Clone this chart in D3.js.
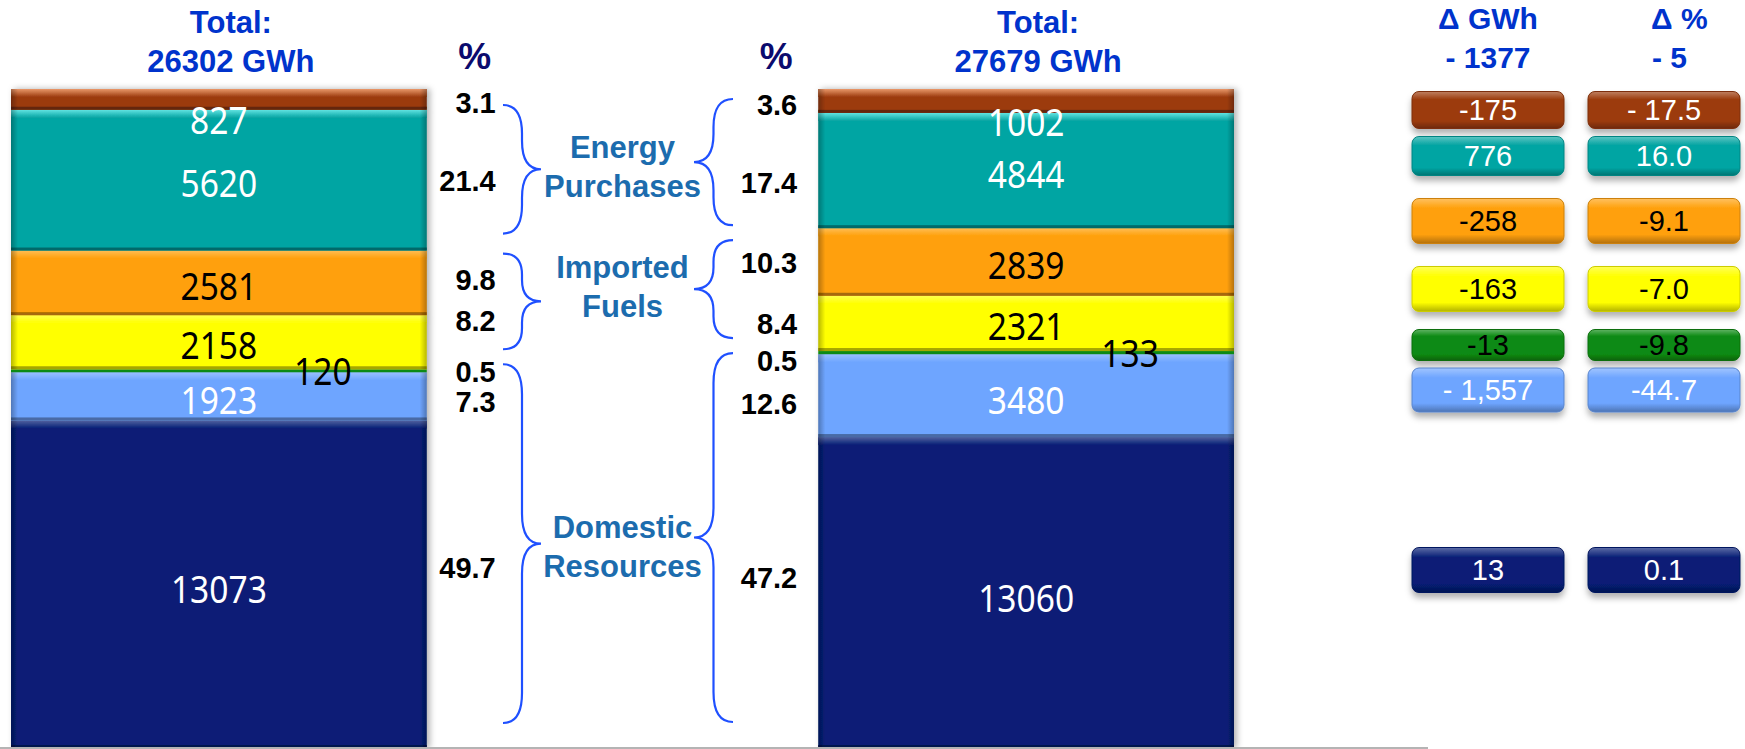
<!DOCTYPE html>
<html>
<head>
<meta charset="utf-8">
<script src="https://cdn.jsdelivr.net/npm/d3@7"></script>
<style>
  html, body { margin: 0; padding: 0; background: #fff; }
  svg { display: block; }
</style>
</head>
<body>
<svg id="chart" width="1745" height="749"></svg>
<script>
// ── Data (top of stack first) ──
const categories = ['purchasesA', 'purchasesB', 'fuelsA', 'fuelsB', 'domesticA', 'domesticB', 'domesticC']
const periods = ['current', 'previous']
const totals = ['26302', '27679']
const currentGwh = [827, 5620, 2581, 2158, 120, 1923, 13073]
const previousGwh = [1002, 4844, 2839, 2321, 133, 3480, 13060]
const currentPct = ['3.1', '21.4', '9.8', '8.2', '0.5', '7.3', '49.7']
const previousPct = ['3.6', '17.4', '10.3', '8.4', '0.5', '12.6', '47.2']
const deltaGwh = ['-175', '776', '-258', '-163', '-13', '- 1,557', '13']
const deltaPct = ['- 17.5', '16.0', '-9.1', '-7.0', '-9.8', '-44.7', '0.1']
const deltaTotals = ['- 1377', '- 5']
const groupNames = [['Energy', 'Purchases'], ['Imported', 'Fuels'], ['Domestic', 'Resources']]
const groupKeys = [['purchasesA', 'purchasesB'], ['fuelsA', 'fuelsB'], ['domesticA', 'domesticB', 'domesticC']]

// ── Layout tweaks (label nudges) ──
const labelDy = [21, 3, 3, 3, 0, 4, 5]
const labelDx = [0, 0, 0, 0, 0.25, 0, 0]
const pctNudge = [[3, 0, -3, -22, 1, 5, -17], [4, 12, 1, 0, 8, 8, -15]]
const braceInset = [[[16, 17], [3, 20], [-5, 25]], [[10, 3], [12, 13], [2, 26]]]
const groupLabelDy = [1, -9, 6]
const boxRowY = [110, 156, 221, 289, 345, 390, 570]
const boxRowH = [37, 39, 45, 45, 31, 44, 45]

const svg = d3.select('#chart')
const defs = svg.append('defs')

const y = d3.scaleLinear().domain([0, 1]).range([748, 89])
const x = d3.scaleBand().domain(periods).range([11, 1234]).paddingInner(0.485)
const color = d3.scaleOrdinal().domain(categories)
  .range(['#9c3b0e', '#05a5a3', '#ffa00a', '#ffff00', '#0b8a12', '#6ea5ff', '#071e76'])
const ink = d3.scaleOrdinal().domain(categories)
  .range(['#fff', '#fff', '#000', '#000', '#000', '#fff', '#fff'])

const table = periods.map((p, i) => {
  const row = { period: p }
  const vals = i === 0 ? currentGwh : previousGwh
  categories.forEach((c, j) => { row[c] = vals[j] })
  return row
})
const series = d3.stack().keys(categories.slice().reverse()).offset(d3.stackOffsetExpand)(table)

const segments = []
series.forEach(s => s.forEach((d, i) => {
  segments.push({ key: s.key, idx: categories.indexOf(s.key), period: periods[i], pi: i,
    y0: d[0], y1: d[1], value: d.data[s.key] })
}))
const segOf = (key, pi) => segments.find(d => d.key === key && d.pi === pi)
const mid = d => (y(d.y0) + y(d.y1)) / 2

// ── Gradients and shadows ──
const lighten = (c, t) => d3.interpolateRgb(c, '#fff')(t)
const darken = (c, t) => d3.interpolateRgb(c, '#000')(t)
categories.forEach(c => {
  const hl = defs.append('linearGradient').attr('id', 'hl-' + c).attr('x1', 0).attr('x2', 0).attr('y1', 0).attr('y2', 1)
  hl.append('stop').attr('offset', 0).attr('stop-color', lighten(c === 'purchasesA' ? '#e06a2a' : c === 'purchasesB' ? '#20d8d6' : color(c), 0.3))
  hl.append('stop').attr('offset', 1).attr('stop-color', color(c))
  const bx = defs.append('linearGradient').attr('id', 'box-' + c).attr('x1', 0).attr('x2', 0).attr('y1', 0).attr('y2', 1)
  bx.append('stop').attr('offset', 0).attr('stop-color', lighten(color(c), 0.35))
  bx.append('stop').attr('offset', 0.22).attr('stop-color', color(c))
  bx.append('stop').attr('offset', 0.8).attr('stop-color', color(c))
  bx.append('stop').attr('offset', 1).attr('stop-color', darken(color(c), 0.3))
})
const sideL = defs.append('linearGradient').attr('id', 'sideL')
sideL.append('stop').attr('offset', 0).attr('stop-color', '#000').attr('stop-opacity', 0.28)
sideL.append('stop').attr('offset', 1).attr('stop-color', '#000').attr('stop-opacity', 0)
const sideR = defs.append('linearGradient').attr('id', 'sideR')
sideR.append('stop').attr('offset', 0).attr('stop-color', '#000').attr('stop-opacity', 0)
sideR.append('stop').attr('offset', 1).attr('stop-color', '#000').attr('stop-opacity', 0.28)

defs.append('filter').attr('id', 'barShadow').attr('x', '-5%').attr('y', '-5%').attr('width', '110%').attr('height', '110%')
  .append('feDropShadow').attr('dx', 3).attr('dy', 0).attr('stdDeviation', 3)
  .attr('flood-color', '#000').attr('flood-opacity', 0.3)
defs.append('filter').attr('id', 'boxShadow').attr('x', '-10%').attr('y', '-20%').attr('width', '120%').attr('height', '160%')
  .append('feDropShadow').attr('dx', 0).attr('dy', 5).attr('stdDeviation', 3)
  .attr('flood-color', '#000').attr('flood-opacity', 0.3)

// ── Stacked 100% bars ──
const barG = svg.append('g').attr('filter', 'url(#barShadow)')
const seg = barG.selectAll('g').data(segments).join('g')
seg.append('rect')
  .attr('x', d => x(d.period)).attr('y', d => y(d.y1))
  .attr('width', x.bandwidth()).attr('height', d => y(d.y0) - y(d.y1))
  .attr('fill', d => color(d.key))
const tall = seg.filter(d => y(d.y0) - y(d.y1) > 12)
tall.append('rect')
  .attr('x', d => x(d.period)).attr('y', d => y(d.y1))
  .attr('width', x.bandwidth()).attr('height', 8)
  .attr('fill', d => `url(#hl-${d.key})`)
tall.append('rect')
  .attr('x', d => x(d.period)).attr('y', d => y(d.y0) - 3)
  .attr('width', x.bandwidth()).attr('height', 3)
  .attr('fill', d => darken(color(d.key), 0.35))
tall.append('rect')
  .attr('x', d => x(d.period)).attr('y', d => y(d.y1))
  .attr('width', 7).attr('height', d => y(d.y0) - y(d.y1))
  .attr('fill', 'url(#sideL)')
tall.append('rect')
  .attr('x', d => x(d.period) + x.bandwidth() - 7).attr('y', d => y(d.y1))
  .attr('width', 7).attr('height', d => y(d.y0) - y(d.y1))
  .attr('fill', 'url(#sideR)')

svg.append('line').attr('x1', 0).attr('x2', 1428).attr('y1', 748).attr('y2', 748)
  .attr('stroke', '#b4b4b4').attr('stroke-width', 2)

// values inside the bars (squeezed a little, the slide font is narrow)
svg.append('g').selectAll('text').data(segments).join('text')
  .attr('transform', d => `translate(${x(d.period) + x.bandwidth() * (0.5 + labelDx[d.idx])},${mid(d) + labelDy[d.idx]}) scale(0.86,1)`)
  .attr('dy', '0.36em')
  .attr('text-anchor', 'middle')
  .attr('fill', d => ink(d.key))
  .style('font', "39px 'Noto Sans', sans-serif")
  .text(d => d.value)

// ── Headers ──
const head = svg.append('g').attr('font-family', "'Liberation Sans', Arial, sans-serif").attr('font-weight', 'bold')
periods.forEach((p, i) => {
  const cx = x(p) + x.bandwidth() / 2 + 12
  head.append('text').attr('x', cx).attr('y', 33).attr('text-anchor', 'middle')
    .attr('font-size', 31).attr('fill', '#0033cc').text('Total:')
  head.append('text').attr('x', cx).attr('y', 72).attr('text-anchor', 'middle')
    .attr('font-size', 31).attr('fill', '#0033cc').text(`${totals[i]} GWh`)
})

// ── Percent columns ──
const pctAnchorX = [x('current') + x.bandwidth() + 69, x('previous') - 21]
const pctVals = [currentPct, previousPct]
periods.forEach((p, i) => {
  head.append('text').attr('x', pctAnchorX[i] - 21).attr('y', 69).attr('text-anchor', 'middle')
    .attr('font-size', 37).attr('fill', '#0b0b6e').text('%')
  head.append('g').selectAll('text').data(categories).join('text')
    .attr('x', pctAnchorX[i])
    .attr('y', (c, j) => mid(segOf(c, i)) + pctNudge[i][j])
    .attr('dy', '0.36em').attr('text-anchor', 'end')
    .attr('font-size', 29).attr('fill', '#000')
    .text((c, j) => pctVals[i][j])
})

// ── Braces ──
const braceTipX = [503, 733]
const bracePointX = [541, 694]
function bracePath(tipX, pointX, top, bottom) {
  const xm = (tipX + pointX) / 2
  const pm = (top + bottom) / 2
  const r = Math.min(30, (bottom - top) / 4.5)
  return `M${tipX},${top} Q${xm},${top} ${xm},${top + r} L${xm},${pm - r} Q${xm},${pm} ${pointX},${pm}` +
    ` Q${xm},${pm} ${xm},${pm + r} L${xm},${bottom - r} Q${xm},${bottom} ${tipX},${bottom}`
}
const bracePoints = groupKeys.map(() => [])
periods.forEach((p, i) => {
  groupKeys.forEach((keys, g) => {
    const top = y(segOf(keys[0], i).y1) + braceInset[i][g][0]
    const bottom = y(segOf(keys[keys.length - 1], i).y0) - braceInset[i][g][1]
    bracePoints[g].push((top + bottom) / 2)
    svg.append('path').attr('d', bracePath(braceTipX[i], bracePointX[i], top, bottom))
      .attr('fill', 'none').attr('stroke', '#1f50ff').attr('stroke-width', 2.2)
  })
})

// group names between the bars
const gapX = (x('current') + x.bandwidth() + x('previous')) / 2
groupNames.forEach((lines, g) => {
  const cy = d3.mean(bracePoints[g]) + groupLabelDy[g]
  lines.forEach((t, k) => {
    head.append('text').attr('x', gapX).attr('y', cy + (k - 0.5) * 39)
      .attr('dy', '0.36em').attr('text-anchor', 'middle')
      .attr('font-size', 31).attr('fill', '#1c6cae').text(t)
  })
})

// ── Change boxes ──
const boxColX = [1488, 1664]
const boxW = 152
head.append('text').attr('x', boxColX[0]).attr('y', 29).attr('text-anchor', 'middle')
  .attr('font-size', 30).attr('fill', '#0033cc').text('Δ GWh')
head.append('text').attr('x', boxColX[0]).attr('y', 68).attr('text-anchor', 'middle')
  .attr('font-size', 30).attr('fill', '#0033cc').text(deltaTotals[0])
head.append('text').attr('x', 1651).attr('y', 29)
  .attr('font-size', 30).attr('fill', '#0033cc').text('Δ %')
head.append('text').attr('x', 1652).attr('y', 68)
  .attr('font-size', 30).attr('fill', '#0033cc').text(deltaTotals[1])

const rowY = d3.scaleOrdinal().domain(categories).range(boxRowY)
const rowH = d3.scaleOrdinal().domain(categories).range(boxRowH)
const deltaCols = [deltaGwh, deltaPct]
deltaCols.forEach((vals, k) => {
  const box = svg.append('g').selectAll('g').data(categories).join('g')
  box.append('rect')
    .attr('x', boxColX[k] - boxW / 2).attr('y', c => rowY(c) - rowH(c) / 2)
    .attr('width', boxW).attr('height', c => rowH(c)).attr('rx', 7)
    .attr('fill', c => `url(#box-${c})`)
    .attr('stroke', c => darken(color(c), 0.2)).attr('stroke-width', 1)
    .attr('filter', 'url(#boxShadow)')
  box.append('text')
    .attr('x', boxColX[k]).attr('y', c => rowY(c))
    .attr('dy', '0.36em').attr('text-anchor', 'middle')
    .attr('fill', c => ink(c))
    .style('font', "29px 'Liberation Sans', Arial, sans-serif")
    .text((c, j) => vals[j])
})
</script>
</body>
</html>
